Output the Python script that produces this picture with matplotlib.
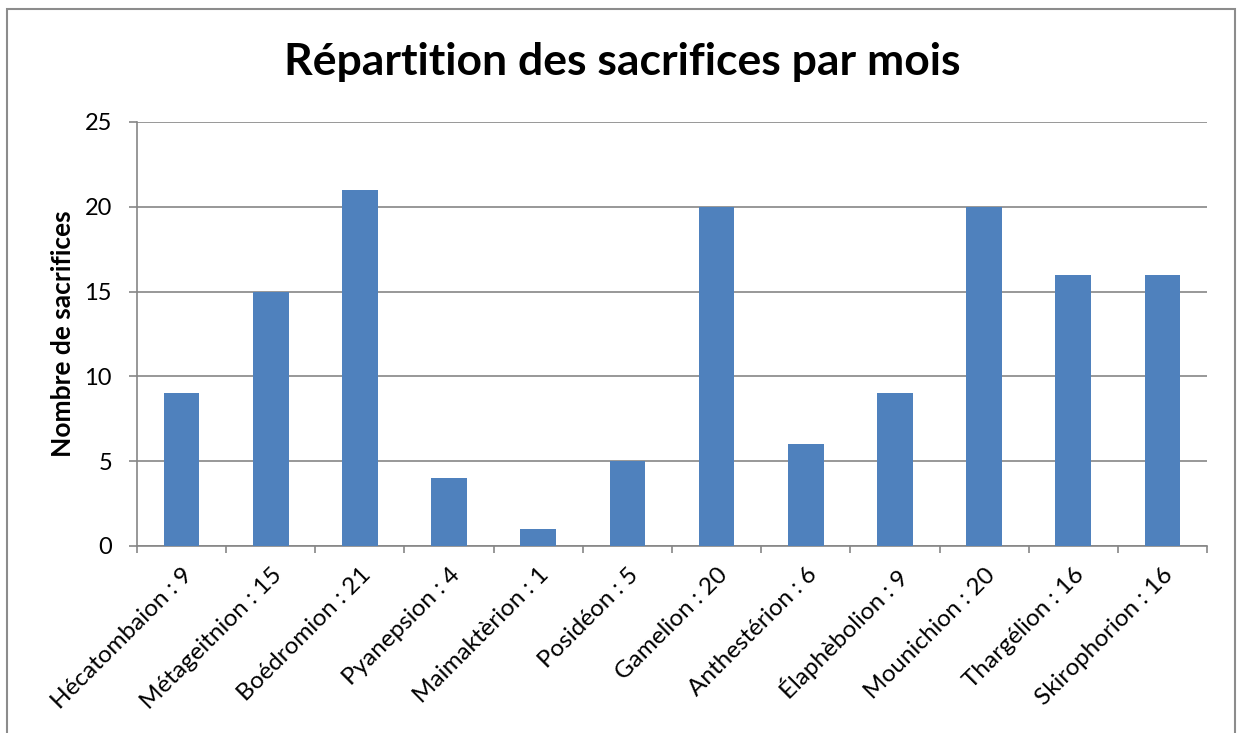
import matplotlib
matplotlib.use("Agg")
import matplotlib.pyplot as plt
from matplotlib.patches import Rectangle
import numpy as np

months = ["Hécatombaion : 9", "Métageitnion : 15", "Boédromion : 21", "Pyanepsion : 4",
          "Maimaktèrion : 1", "Posidéon : 5", "Gamelion : 20", "Anthestérion : 6",
          "Élaphèbolion : 9", "Mounichion : 20", "Thargélion : 16", "Skirophorion : 16"]
counts = [9, 15, 21, 4, 1, 5, 20, 6, 9, 20, 16, 16]
yticks = [0, 5, 10, 15, 20, 25]

plt.rcParams['font.family'] = ['Lato', 'DejaVu Sans']

W, H = 1239, 733
fig = plt.figure(figsize=(W / 100, H / 100), dpi=100)
fig.patch.set_facecolor('white')

# outer chart border
fig.add_artist(Rectangle((7 / W, 1 - 740 / H), (1235 - 7) / W, (740 - 9) / H,
                         transform=fig.transFigure, fill=False, edgecolor='#8c8c8c',
                         linewidth=1.5, clip_on=False))

left, right, top, bottom = 137, 1207, 122, 546
ax = fig.add_axes([left / W, 1 - bottom / H, (right - left) / W, (bottom - top) / H])

gray = '#868686'
x = np.arange(len(months))
ax.bar(x, counts, width=0.40, color='#4F81BD', zorder=3)

ax.set_xlim(-0.5, len(months) - 0.5)
ax.set_ylim(0, 25)
ax.set_yticks(yticks)
ax.yaxis.grid(True, color=gray, linewidth=1.2, zorder=0)
ax.tick_params(axis='y', length=6, width=1.2, color=gray, labelsize=17, pad=12)

ax.set_xticks(x)
ax.set_xticklabels(months, rotation=45, ha='right', rotation_mode='anchor', fontsize=17.5)
ax.tick_params(axis='x', which='major', length=0, pad=13)
ax.set_xticks(np.arange(-0.5, len(months)), minor=True)
ax.tick_params(axis='x', which='minor', length=5, width=1.2, color=gray)

for s in ['top', 'right']:
    ax.spines[s].set_visible(False)
for s in ['left', 'bottom']:
    ax.spines[s].set_color(gray)
    ax.spines[s].set_linewidth(1.2)

ax.set_ylabel("Nombre de sacrifices", fontsize=19, fontweight='bold', labelpad=7)
fig.text(622 / W, 1 - 62 / H, "Répartition des sacrifices par mois", ha='center', va='center',
         fontsize=32, fontweight='bold')

fig.savefig("out.png", dpi=100, facecolor='white')
